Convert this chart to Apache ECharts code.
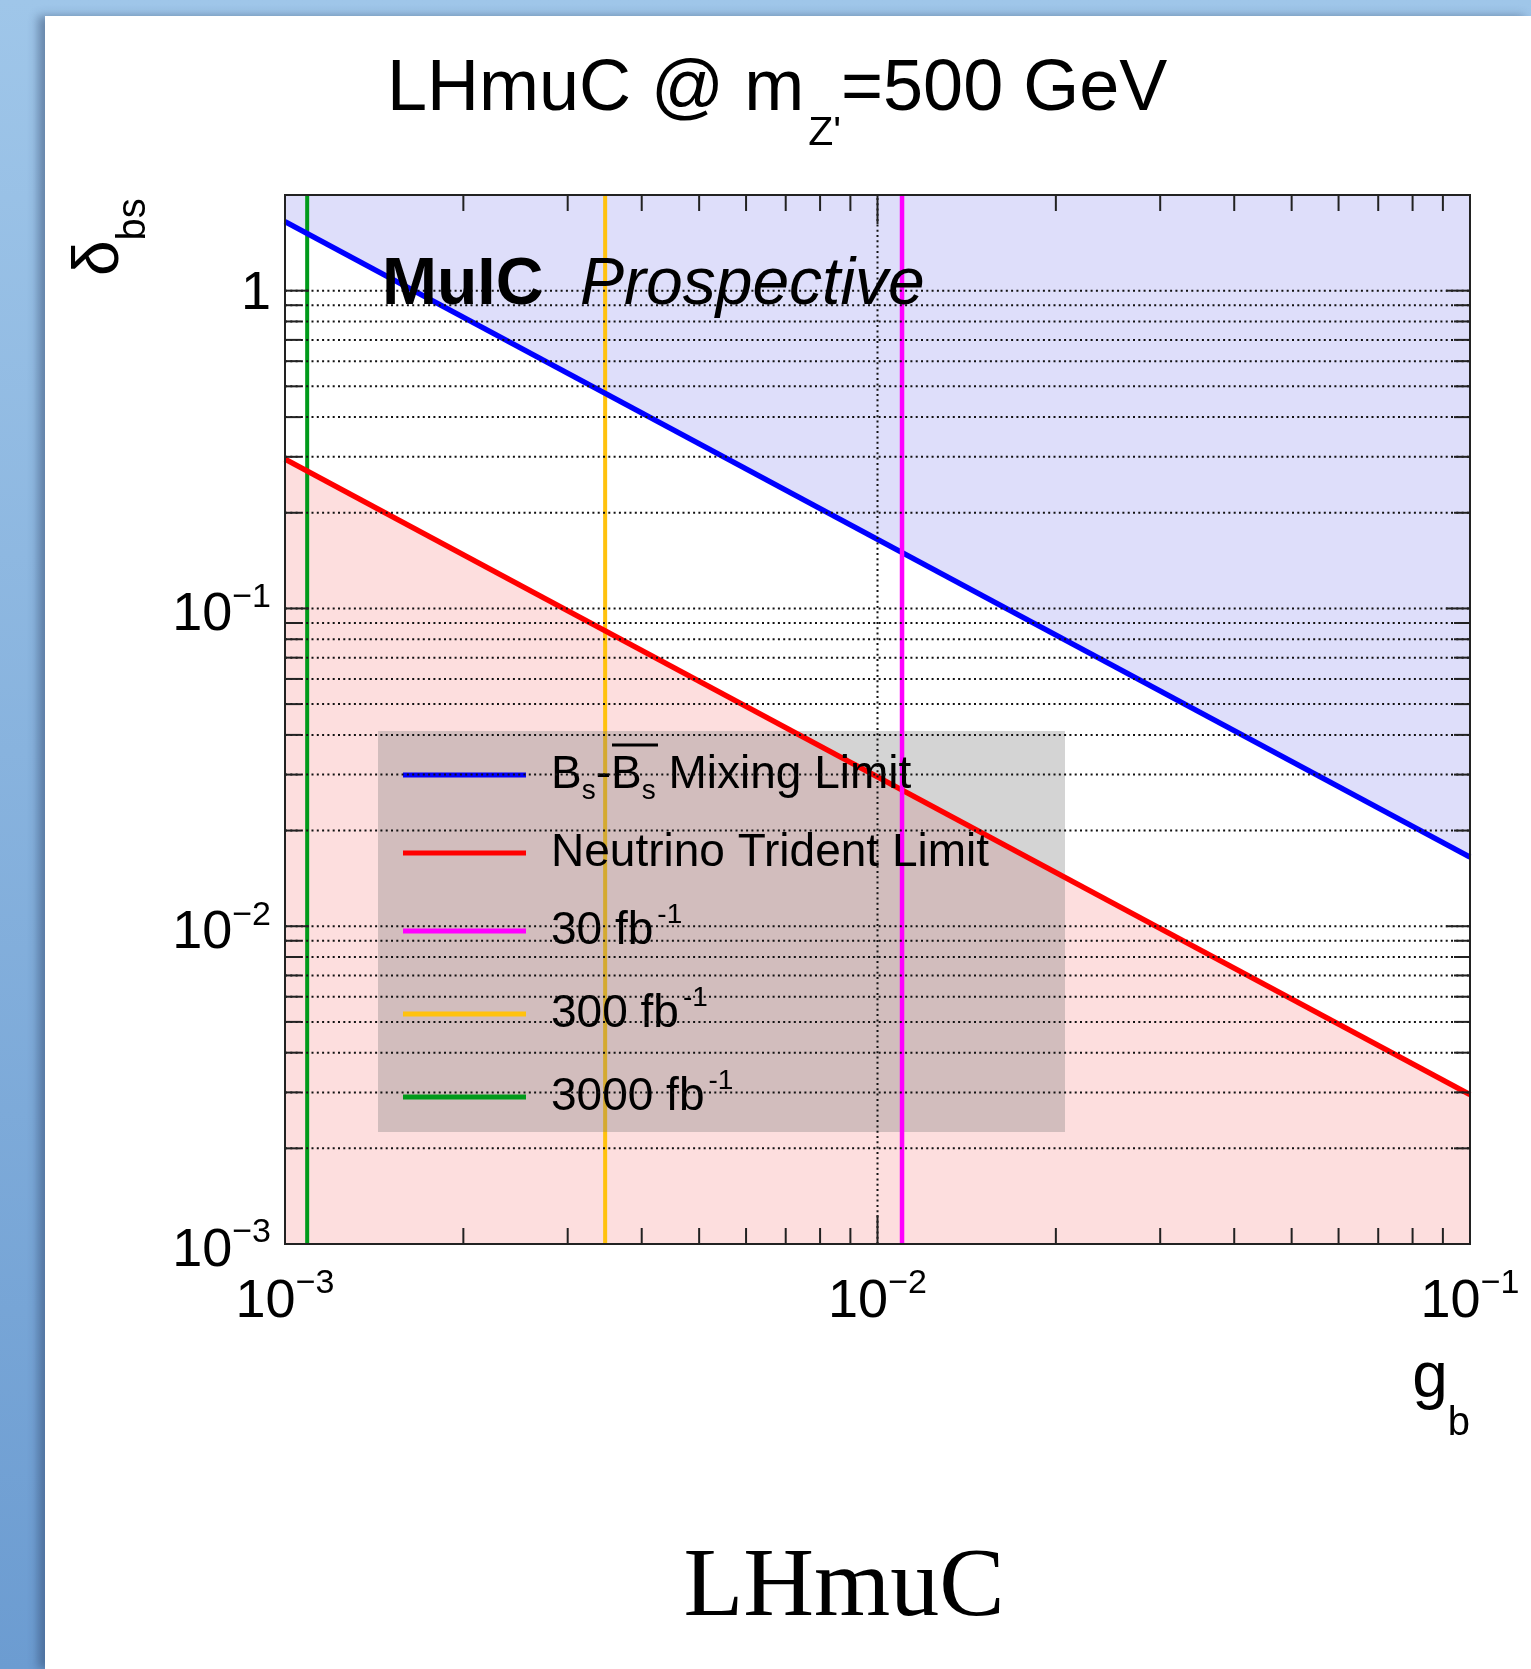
<!DOCTYPE html>
<html>
<head>
<meta charset="utf-8">
<title>LHmuC @ mZ' = 500 GeV</title>
<script src="https://cdn.jsdelivr.net/npm/echarts@6/dist/echarts.min.js"></script>
<style>
  html, body { margin: 0; padding: 0; }
  body {
    width: 1531px;
    height: 1669px;
    position: relative;
    overflow: hidden;
    background: linear-gradient(180deg, #9fc6e9 0%, #88b3de 45%, #6c9cd1 100%);
  }
  #panel {
    position: absolute;
    left: 45px; top: 16px; right: 0; bottom: 0;
    background: #fff;
    box-shadow: -7px 0 9px rgba(40, 60, 95, 0.45);
  }
  #chart { position: absolute; left: 0; top: 0; width: 1531px; height: 1669px; }
</style>
</head>
<body>
<div id="panel"></div>
<div id="chart"></div>
<script>
const FONT = "'Liberation Sans', Arial, Helvetica, sans-serif"

// axis ranges
const gRange = [0.001, 0.1]
const deltaRange = [0.001, 2]

// limit curves, read at the two plot edges (straight lines in log-log)
const gB = [0.001, 0.1]
const mixingLimit = [1.65, 0.0165]
const tridentLimit = [0.295, 0.00295]

// MuIC reach on g_b per integrated luminosity
const reach30 = 0.011
const reach300 = 0.00347
const reach3000 = 0.00109

// ticks and grid
const xMajorTicks = [0.01]
const xMinorTicks = [0.002, 0.003, 0.004, 0.005, 0.006, 0.007, 0.008, 0.009,
  0.02, 0.03, 0.04, 0.05, 0.06, 0.07, 0.08, 0.09]
const yMajorTicks = [0.01, 0.1, 1]
const yMinorTicks = [0.002, 0.003, 0.004, 0.005, 0.006, 0.007, 0.008, 0.009,
  0.02, 0.03, 0.04, 0.05, 0.06, 0.07, 0.08, 0.09,
  0.2, 0.3, 0.4, 0.5, 0.6, 0.7, 0.8, 0.9]
const xGridLines = [0.01]
const yGridLines = yMinorTicks.concat(yMajorTicks)

// legend
const seriesNames = ['Bs-Bsbar Mixing Limit', 'Neutrino Trident Limit', '30 fb-1', '300 fb-1', '3000 fb-1']
const legendLabels = {
  'Bs-Bsbar Mixing Limit': 'B{sub|s}-B{sub|s} Mixing Limit',
  'Neutrino Trident Limit': 'Neutrino Trident Limit',
  '30 fb-1': '30 fb{sup|-1}',
  '300 fb-1': '300 fb{sup|-1}',
  '3000 fb-1': '3000 fb{sup|-1}'
}

const toPairs = (xs, ys) => xs.map((x, i) => [x, ys[i]])
const vertical = (x) => [[x, deltaRange[0]], [x, deltaRange[1]]]

const powerLabel = (v) => {
  const e = Math.log10(v)
  const n = Math.round(e)
  if (Math.abs(e - n) > 1e-6) return ''
  if (n === 0) return '{one|1}'
  return '{m|10}{e|\u2212' + Math.abs(n) + '}'
}

const lineSeries = (name, data, color, z, width) => ({
  name,
  type: 'line',
  data,
  z,
  symbol: 'none',
  silent: true,
  itemStyle: { color },
  lineStyle: { color, width }
})

const fillSeries = (name, data, color, origin) => ({
  name,
  type: 'line',
  data,
  z: 1,
  symbol: 'none',
  silent: true,
  lineStyle: { opacity: 0 },
  areaStyle: { color, origin, opacity: 1 }
})

// tick marks drawn on all four sides, inward
const renderXTick = (params, api) => {
  const len = api.value(2) ? 29 : 16
  const b = api.coord([api.value(0), deltaRange[0]])
  const t = api.coord([api.value(0), deltaRange[1]])
  const style = { stroke: '#222', lineWidth: 2 }
  return {
    type: 'group',
    children: [
      { type: 'line', shape: { x1: b[0], y1: b[1], x2: b[0], y2: b[1] - len }, style },
      { type: 'line', shape: { x1: t[0], y1: t[1], x2: t[0], y2: t[1] + len }, style }
    ]
  }
}

const renderYTick = (params, api) => {
  const len = api.value(2) ? 24 : 16
  const l = api.coord([gRange[0], api.value(1)])
  const r = api.coord([gRange[1], api.value(1)])
  const style = { stroke: '#222', lineWidth: 2 }
  return {
    type: 'group',
    children: [
      { type: 'line', shape: { x1: l[0], y1: l[1], x2: l[0] + len, y2: l[1] }, style },
      { type: 'line', shape: { x1: r[0], y1: r[1], x2: r[0] - len, y2: r[1] }, style }
    ]
  }
}

const renderGrid = (params, api) => {
  const style = { stroke: '#111', lineWidth: 2, lineDash: [2, 3.3] }
  let a, b
  if (api.value(2)) {
    a = api.coord([api.value(0), deltaRange[0]])
    b = api.coord([api.value(0), deltaRange[1]])
  } else {
    a = api.coord([gRange[0], api.value(1)])
    b = api.coord([gRange[1], api.value(1)])
  }
  return { type: 'line', shape: { x1: a[0], y1: a[1], x2: b[0], y2: b[1] }, style }
}

const chart = echarts.init(document.getElementById('chart'), null, { renderer: 'canvas' })

chart.setOption({
  animation: false,
  backgroundColor: 'transparent',
  textStyle: { fontFamily: FONT },
  title: {
    text: '{a|LHmuC @ m}{s|Z\'}{a|=500 GeV}',
    left: 387,
    top: 50,
    padding: 0,
    textStyle: {
      fontWeight: 'normal',
      rich: {
        a: { fontFamily: FONT, fontSize: 72, fontWeight: 'normal', lineHeight: 80, color: '#000' },
        s: { fontFamily: FONT, fontSize: 41, fontWeight: 'normal', lineHeight: 80, color: '#000', padding: [88, 0, 0, 4] }
      }
    }
  },
  grid: {
    left: 285,
    right: 61,
    top: 195,
    bottom: 425,
    show: true,
    z: 6,
    backgroundColor: 'transparent',
    borderColor: '#222',
    borderWidth: 2,
    containLabel: false,
    outerBoundsMode: 'none'
  },
  xAxis: {
    type: 'log',
    logBase: 10,
    min: gRange[0],
    max: gRange[1],
    axisLine: { show: false },
    axisTick: { show: false },
    splitLine: { show: false },
    axisLabel: {
      margin: 28,
      showMinLabel: true,
      showMaxLabel: true,
      formatter: powerLabel,
      rich: {
        m: { fontFamily: FONT, fontSize: 54, lineHeight: 60, color: '#000' },
        e: { fontFamily: FONT, fontSize: 34, lineHeight: 60, color: '#000', padding: [0, 0, 36, 0] },
        one: { fontFamily: FONT, fontSize: 54, lineHeight: 60, color: '#000' }
      }
    }
  },
  yAxis: {
    type: 'log',
    logBase: 10,
    min: deltaRange[0],
    max: deltaRange[1],
    axisLine: { show: false },
    axisTick: { show: false },
    splitLine: { show: false },
    axisLabel: {
      margin: 14,
      showMinLabel: true,
      formatter: powerLabel,
      rich: {
        m: { fontFamily: FONT, fontSize: 54, lineHeight: 60, color: '#000', padding: [14, 0, 0, 0] },
        e: { fontFamily: FONT, fontSize: 34, lineHeight: 60, color: '#000', padding: [0, 0, 22, 0] },
        one: { fontFamily: FONT, fontSize: 54, lineHeight: 60, color: '#000', padding: [6, 0, 0, 0] }
      }
    }
  },
  legend: {
    data: seriesNames,
    orient: 'vertical',
    left: 403,
    top: 745,
    padding: 0,
    itemWidth: 123,
    itemHeight: 5,
    itemGap: 23,
    icon: 'rect',
    selectedMode: false,
    formatter: (name) => legendLabels[name],
    textStyle: {
      fontFamily: FONT,
      fontSize: 46,
      lineHeight: 50,
      color: '#000',
      padding: [0, 0, 0, 20],
      rich: {
        sub: { fontFamily: FONT, fontSize: 28, lineHeight: 50, color: '#000', padding: [32, 0, 0, 0] },
        sup: { fontFamily: FONT, fontSize: 28, lineHeight: 50, color: '#000', padding: [0, 0, 32, 4] }
      }
    }
  },
  graphic: [
    {
      // legend box, semi transparent grey
      type: 'rect',
      z: 2,
      silent: true,
      shape: { x: 378, y: 731, width: 687, height: 401 },
      style: { fill: 'rgba(120,120,120,0.32)' }
    },
    {
      // bar over the second B_s in the legend
      type: 'line',
      z: 6,
      silent: true,
      shape: { x1: 612, y1: 745, x2: 658, y2: 745 },
      style: { stroke: '#000', lineWidth: 3 }
    },
    {
      type: 'text',
      z: 7,
      x: 382,
      y: 286,
      silent: true,
      style: {
        text: '{b|MuIC}{i|  Prospective}',
        textAlign: 'left',
        verticalAlign: 'middle',
        rich: {
          b: { fontFamily: FONT, fontSize: 66, fontWeight: 'bold', lineHeight: 80, fill: '#000' },
          i: { fontFamily: FONT, fontSize: 66, fontStyle: 'italic', lineHeight: 80, fill: '#000' }
        }
      }
    },
    {
      type: 'text',
      z: 7,
      x: 100,
      y: 276,
      rotation: Math.PI / 2,
      silent: true,
      style: {
        text: '{d|\u03b4}{s|bs}',
        textAlign: 'left',
        verticalAlign: 'middle',
        rich: {
          d: { fontFamily: FONT, fontSize: 64, lineHeight: 70, fill: '#000' },
          s: { fontFamily: FONT, fontSize: 40, lineHeight: 70, fill: '#000', padding: [68, 0, 0, 0] }
        }
      }
    },
    {
      type: 'text',
      z: 7,
      x: 1470,
      y: 1379,
      silent: true,
      style: {
        text: '{g|g}{b|b}',
        textAlign: 'right',
        verticalAlign: 'middle',
        rich: {
          g: { fontFamily: FONT, fontSize: 64, lineHeight: 70, fill: '#000' },
          b: { fontFamily: FONT, fontSize: 40, lineHeight: 70, fill: '#000', padding: [90, 0, 0, 0] }
        }
      }
    },
    {
      type: 'text',
      z: 7,
      x: 844,
      y: 1589,
      silent: true,
      style: {
        text: 'LHmuC',
        textAlign: 'center',
        verticalAlign: 'middle',
        font: "98px 'Liberation Serif', 'Times New Roman', serif",
        fill: '#000'
      }
    }
  ],
  series: [
    fillSeries('mixingFill', toPairs(gB, mixingLimit), '#dedefa', 'end'),
    fillSeries('tridentFill', toPairs(gB, tridentLimit), '#fddede', 'start'),
    lineSeries('3000 fb-1', vertical(reach3000), '#009a1a', 1, 4),
    lineSeries('300 fb-1', vertical(reach300), '#ffc20e', 1, 4),
    lineSeries('Bs-Bsbar Mixing Limit', toPairs(gB, mixingLimit), '#0000ff', 3, 5.5),
    lineSeries('Neutrino Trident Limit', toPairs(gB, tridentLimit), '#ff0000', 3, 5.5),
    lineSeries('30 fb-1', vertical(reach30), '#ff00ff', 3, 4.5),
    {
      name: 'grid',
      type: 'custom',
      z: 5,
      silent: true,
      clip: false,
      renderItem: renderGrid,
      encode: { x: 0, y: 1 },
      data: yGridLines.map((v) => [gRange[0], v, 0])
        .concat(xGridLines.map((v) => [v, deltaRange[0], 1]))
    },
    {
      name: 'xTicks',
      type: 'custom',
      z: 5,
      silent: true,
      clip: false,
      renderItem: renderXTick,
      encode: { x: 0, y: 1 },
      data: xMinorTicks.map((v) => [v, deltaRange[0], 0])
        .concat(xMajorTicks.map((v) => [v, deltaRange[0], 1]))
    },
    {
      name: 'yTicks',
      type: 'custom',
      z: 5,
      silent: true,
      clip: false,
      renderItem: renderYTick,
      encode: { x: 0, y: 1 },
      data: yMinorTicks.map((v) => [gRange[0], v, 0])
        .concat(yMajorTicks.map((v) => [gRange[0], v, 1]))
    }
  ]
})
</script>
</body>
</html>
